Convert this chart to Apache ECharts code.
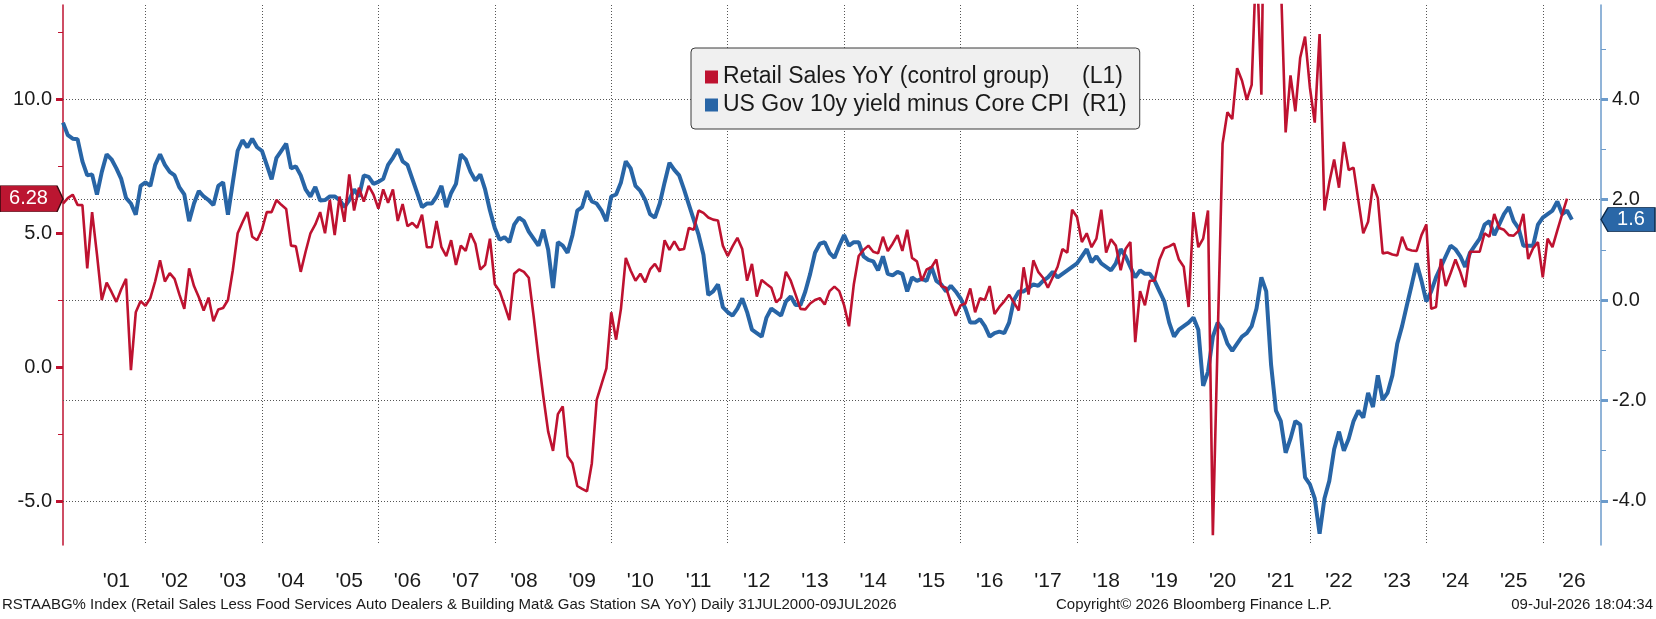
<!DOCTYPE html>
<html>
<head>
<meta charset="utf-8">
<script src="https://cdn.jsdelivr.net/npm/echarts@6/dist/echarts.min.js"></script>
<style>
html,body{margin:0;padding:0;background:#fff;}
#chart{width:1656px;height:619px;}
</style>
</head>
<body>
<div id="chart"></div>
<script>
// ---------------- DATA ----------------
// Monthly categories: Aug 2000 .. Jan 2027
const firstYear = 2000, firstMonth = 8, monthCount = 318;
const months = [];
for (let i = 0; i < monthCount; i++) {
  const m0 = firstMonth - 1 + i;
  const y = firstYear + Math.floor(m0 / 12);
  const m = (m0 % 12) + 1;
  months.push(y + '-' + (m < 10 ? '0' + m : '' + m));
}

// Retail Sales YoY (control group), % (left axis) - monthly
const retailYoY = [
  6.1, 6.3, 6.43, 6.05, 6.04,
  3.68, 5.78, 4.2, 2.5, 3.15, 2.8, 2.43, 2.9, 3.29, -0.12, 2.04, 2.46,
  2.28, 2.57, 3.2, 3.98, 3.19, 3.5, 3.29, 2.7, 2.17, 3.68, 3.02, 2.6,
  2.11, 2.59, 1.71, 2.15, 2.2, 2.5, 3.61, 4.99, 5.4, 5.78, 4.86, 4.73,
  5.12, 5.78, 5.78, 6.23, 6.05, 5.9, 4.53, 4.5, 3.55, 4.3, 4.99, 5.32,
  5.78, 4.99, 6.23, 4.92, 6.36, 5.42, 7.19, 5.84, 6.69, 6.17, 6.76, 6.43,
  5.91, 6.63, 6.13, 6.63, 5.45, 6.08, 5.25, 5.38, 5.19, 5.68, 4.47, 4.47,
  5.45, 4.47, 4.14, 4.73, 3.81, 4.53, 4.33, 4.99, 4.6, 3.64, 3.81, 4.79,
  3.09, 2.83, 2.3, 1.75, 3.48, 3.64, 3.55, 3.33, 1.9, 0.34, -1.1, -2.41,
  -3.13, -1.76, -1.47, -3.33, -3.59, -4.44, -4.55, -4.64, -3.59, -1.23, -0.64, -0.05,
  2.04, 1.02, 2.17, 4.07, 3.6, 3.22, 3.48, 3.16, 3.64, 3.85, 3.55, 4.73,
  4.37, 4.69, 4.37, 4.4, 5.19, 5.12, 5.84, 5.75, 5.58, 5.5, 5.47, 4.53,
  4.14, 4.5, 4.82, 4.4, 3.22, 3.85, 2.63, 3.25, 3.1, 2.96, 2.41, 2.59,
  3.55, 3.22, 2.7, 2.17, 2.15, 2.37, 2.5, 2.57, 2.33, 2.83, 3.0, 2.83,
  2.3, 1.52, 3.09, 4.14, 4.37, 4.53, 4.3, 4.24, 4.86, 4.33, 4.6, 4.92,
  4.33, 5.12, 4.07, 3.94, 3.22, 3.64, 3.72, 4.01, 3.02, 2.96, 2.4, 1.91,
  2.3, 2.37, 2.93, 2.04, 2.57, 2.5, 3.02, 1.98, 2.24, 2.45, 2.7, 2.4,
  2.11, 3.72, 2.7, 3.98, 3.55, 3.33, 2.96, 3.35, 3.74, 4.4, 4.27, 5.87,
  5.6, 4.66, 4.99, 4.47, 4.79, 5.87, 4.27, 4.77, 4.53, 3.61, 4.4, 4.66,
  0.93, 2.83, 2.3, 3.22, 3.22, 4.0, 4.43, 4.5, 4.6, 4.01, 3.74, 2.24,
  5.78, 4.47, 4.79, 5.84, -6.28, 1.12, 8.33, 9.51, 9.25, 11.15, 10.69, 9.97,
  10.53, 15.5, 10.16, 24.0, 28.0, 20.0, 14.5, 8.75, 10.88, 9.54, 11.54, 12.33,
  10.43, 9.12, 12.42, 5.84, 6.89, 7.74, 6.69, 8.4, 7.35, 7.44, 6.2, 4.99,
  5.42, 6.82, 6.3, 4.24, 4.27, 4.2, 4.16, 4.86, 4.4, 4.35, 4.33, 4.92,
  5.32, 2.17, 2.24, 4.03, 3.02, 3.5, 4.01, 3.55, 2.98, 4.3, 4.3, 4.3,
  4.99, 4.86, 5.71, 5.19, 5.12, 4.92, 4.9, 5.08, 5.71, 4.03, 4.43, 4.66,
  3.35, 4.79, 4.47, 5.1, 5.7, 6.28
];

// US Gov 10y yield minus Core CPI, % (right axis) - monthly
const realYield = [
  3.53, 3.28, 3.21, 3.2, 2.76,
  2.48, 2.5, 2.1, 2.55, 2.9, 2.8, 2.62, 2.41, 2.03, 1.92, 1.7, 2.27,
  2.34, 2.27, 2.69, 2.9, 2.69, 2.55, 2.48, 2.24, 2.1, 1.57, 1.92, 2.17,
  2.06, 1.99, 1.89, 2.27, 2.34, 1.7, 2.34, 2.97, 3.18, 3.04, 3.21, 3.04,
  2.97, 2.69, 2.4, 2.83, 2.97, 3.11, 2.62, 2.66, 2.48, 2.2, 2.06, 2.25,
  1.98, 1.99, 2.06, 2.06, 1.99, 1.85, 1.99, 2.2, 2.06, 2.48, 2.45, 2.31,
  2.35, 2.41, 2.69, 2.83, 3.0, 2.76, 2.69, 2.41, 2.13, 1.85, 1.92, 1.92,
  2.06, 2.27, 1.85, 2.13, 2.31, 2.9, 2.8, 2.55, 2.38, 2.5, 2.2, 1.78,
  1.43, 1.2, 1.25, 1.15, 1.5, 1.64, 1.57, 1.36, 1.22, 1.08, 1.4, 1.0,
  0.24, 1.15, 1.08, 0.94, 1.29, 1.78, 1.85, 2.17, 1.96, 1.92, 1.78, 1.57,
  2.06, 2.1, 2.34, 2.76, 2.62, 2.27, 2.17, 1.99, 1.71, 1.64, 1.92, 2.34,
  2.73, 2.59, 2.48, 2.2, 1.9, 1.6, 1.3, 0.9, 0.1, 0.17, 0.31, -0.14,
  -0.24, -0.31, -0.17, 0.03, -0.24, -0.59, -0.66, -0.73, -0.35, -0.17, -0.24, -0.31,
  -0.03, 0.07, -0.1, -0.1, 0.17, 0.52, 0.94, 1.12, 1.15, 0.94, 0.84, 1.08,
  1.29, 1.08, 1.15, 1.15, 0.87, 0.8, 0.77, 0.59, 0.87, 0.52, 0.49, 0.56,
  0.52, 0.17, 0.45, 0.38, 0.42, 0.38, 0.66, 0.38, 0.31, 0.17, 0.28, 0.17,
  0.03, -0.17, -0.45, -0.45, -0.38, -0.52, -0.73, -0.66, -0.63, -0.66, -0.45, 0.0,
  0.17, 0.17, 0.24, 0.31, 0.28, 0.38, 0.45, 0.56, 0.45, 0.52, 0.59, 0.66,
  0.73, 0.87, 1.01, 0.75, 0.87, 0.73, 0.66, 0.59, 0.73, 1.01, 0.87, 0.66,
  0.45, 0.59, 0.52, 0.52, 0.38, 0.17, -0.03, -0.45, -0.73, -0.59, -0.52, -0.45,
  -0.35, -0.59, -1.71, -1.43, -0.73, -0.45, -0.59, -0.87, -1.01, -0.87, -0.73, -0.66,
  -0.52, -0.17, 0.45, 0.17, -1.29, -2.2, -2.41, -3.04, -2.76, -2.41, -2.48, -3.53,
  -3.67, -3.95, -4.65, -3.95, -3.6, -2.97, -2.62, -3.0, -2.76, -2.41, -2.2, -2.34,
  -1.85, -2.13, -1.5, -1.99, -1.85, -1.5, -0.87, -0.52, -0.1, 0.31, 0.73, 0.38,
  -0.03, 0.17, 0.45, 0.66, 0.87, 1.08, 1.01, 0.87, 0.66, 0.94, 1.08, 1.22,
  1.5, 1.57, 1.29, 1.5, 1.71, 1.85, 1.57, 1.43, 1.08, 1.08, 1.08, 1.5,
  1.64, 1.71, 1.78, 1.96, 1.71, 1.78, 1.6
];

// Axis tick values
const leftMajorTicks = [-5, 0, 5, 10];
const leftMinorTicks = [-2.5, 2.5, 7.5, 12.5];
const rightMajorTicks = [-4, -2, 0, 2, 4];
const rightMinorTicks = [-3, -1, 1, 3, 5];
const leftRange = [-6.642, 13.508];
const rightRange = [-4.876, 5.871];

// Texts
const seriesNames = ['Retail Sales YoY (control group)', 'US Gov 10y yield minus Core CPI'];
const seriesTags = ['(L1)', '(R1)'];
const footerLeft = 'RSTAABG% Index (Retail Sales Less Food Services Auto Dealers & Building Mat& Gas Station SA YoY) Daily 31JUL2000-09JUL2026';
const footerMid = 'Copyright\u00A9 2026 Bloomberg Finance L.P.';
const footerRight = '09-Jul-2026 18:04:34';

// ---------------- STYLE ----------------
const RED = '#be1230';
const BLUE = '#2865a6';
const RAXIS = '#6c9bcb';
const TXT = '#1a1a1a';
const FONT = '"Liberation Sans", Arial, sans-serif';
const GRID_LINE = {type: [1, 2], color: '#555555', width: 1};

const lastRed = retailYoY[retailYoY.length - 1];
const lastBlue = realYield[realYield.length - 1];

const chart = echarts.init(document.getElementById('chart'), null, {renderer: 'canvas'});

const fmt = v => (Math.abs(v) < 1e-9 ? 0 : v).toFixed(1);

const option = {
  animation: false,
  backgroundColor: '#ffffff',
  textStyle: {fontFamily: FONT},
  grid: {left: 63, right: 55, top: 5, bottom: 74, containLabel: false},
  title: [
    {text: footerLeft, left: 2, top: 597, padding: 0,
     textStyle: {fontSize: 15, fontWeight: 'normal', color: TXT, fontFamily: FONT}},
    {text: footerMid, left: 1056, top: 597, padding: 0,
     textStyle: {fontSize: 15, fontWeight: 'normal', color: TXT, fontFamily: FONT}},
    {text: footerRight, right: 3, top: 597, padding: 0,
     textStyle: {fontSize: 15, fontWeight: 'normal', color: TXT, fontFamily: FONT}}
  ],
  legend: {
    orient: 'vertical',
    left: 691, top: 48,
    padding: [16, 13, 11, 14],
    itemGap: 2,
    itemWidth: 13, itemHeight: 13,
    icon: 'rect',
    backgroundColor: '#f0f0f0',
    borderColor: '#3a3a3a', borderWidth: 1, borderRadius: 4,
    selectedMode: false,
    data: seriesNames,
    formatter: name => '{n|' + name + '}{t|' + seriesTags[seriesNames.indexOf(name)] + '}',
    textStyle: {
      color: TXT, fontSize: 23, lineHeight: 26, fontFamily: FONT,
      rich: {
        n: {width: 359, fontSize: 23, color: TXT, fontFamily: FONT},
        t: {fontSize: 23, color: TXT, fontFamily: FONT}
      }
    }
  },
  xAxis: {
    type: 'category',
    data: months,
    boundaryGap: false,
    axisLine: {show: false},
    axisTick: {show: false},
    axisLabel: {
      interval: (i, v) => v.endsWith('-07'),
      formatter: v => "'" + v.slice(2, 4),
      fontSize: 21, color: TXT, margin: 26, fontFamily: FONT, hideOverlap: false
    },
    splitLine: {
      show: true,
      interval: (i, v) => v.endsWith('-01') && (+v.slice(0, 4)) % 2 === 0,
      lineStyle: GRID_LINE
    }
  },
  yAxis: [
    {
      type: 'value', position: 'left', min: leftRange[0], max: leftRange[1],
      axisLine: {show: true, onZero: false, lineStyle: {color: RED, width: 1.5}},
      axisTick: {show: true, customValues: leftMajorTicks, length: 7, lineStyle: {color: RED, width: 3}},
      axisLabel: {customValues: leftMajorTicks,
                  formatter: fmt, fontSize: 20, color: TXT, margin: 11, fontFamily: FONT},
      splitLine: {show: false}
    },
    {
      type: 'value', position: 'right', min: rightRange[0], max: rightRange[1],
      axisLine: {show: true, onZero: false, lineStyle: {color: RAXIS, width: 1.5}},
      axisTick: {show: true, customValues: rightMajorTicks, length: 7, lineStyle: {color: RAXIS, width: 3}},
      axisLabel: {customValues: rightMajorTicks,
                  formatter: fmt, fontSize: 20, color: TXT, margin: 11, fontFamily: FONT},
      splitLine: {show: false}
    },
    {
      type: 'value', position: 'left', min: leftRange[0], max: leftRange[1],
      axisLine: {show: false},
      axisTick: {show: true, customValues: leftMinorTicks, length: 5, lineStyle: {color: RED, width: 1}},
      axisLabel: {show: false},
      splitLine: {show: false}
    },
    {
      type: 'value', position: 'right', min: rightRange[0], max: rightRange[1],
      axisLine: {show: false},
      axisTick: {show: true, customValues: rightMinorTicks, length: 5, lineStyle: {color: RAXIS, width: 1}},
      axisLabel: {show: false},
      splitLine: {show: false}
    }
  ],
  series: [
    {
      name: seriesNames[1],
      type: 'line',
      yAxisIndex: 1,
      data: realYield,
      showSymbol: false,
      color: BLUE,
      lineStyle: {color: BLUE, width: 4},
      clip: true,
      z: 2,
      markLine: {
        silent: true, symbol: 'none', z: 1,
        label: {show: false},
        lineStyle: GRID_LINE,
        data: rightMajorTicks.map(v => ({yAxis: v}))
      },
      markPoint: {
        silent: true,
        symbol: 'path://M7,0L54,0L54,24L7,24L0,12Z',
        symbolSize: [54, 24],
        symbolOffset: [27, 0],
        itemStyle: {color: '#2a67a7', borderColor: '#0d2a4a', borderWidth: 1},
        label: {show: true, position: 'inside', offset: [3, 0], formatter: String(lastBlue),
                color: '#ffffff', fontSize: 20, fontFamily: FONT},
        data: [{coord: [months[months.length - 1], lastBlue]}]
      }
    },
    {
      name: seriesNames[0],
      type: 'line',
      yAxisIndex: 0,
      data: retailYoY,
      showSymbol: false,
      color: RED,
      lineStyle: {color: RED, width: 2.6},
      clip: true,
      z: 3,
      markPoint: {
        silent: true,
        symbol: 'path://M0,0L57,0L63,13L57,26L0,26Z',
        symbolSize: [63, 26],
        symbolOffset: [-31.5, 0],
        itemStyle: {color: '#bb1631', borderColor: '#3a0a10', borderWidth: 1},
        label: {show: true, position: 'inside', offset: [-3, 0], formatter: String(lastRed),
                color: '#ffffff', fontSize: 20, fontFamily: FONT},
        data: [{coord: [months[0], lastRed]}]
      }
    }
  ]
};

chart.setOption(option);
</script>
</body>
</html>
